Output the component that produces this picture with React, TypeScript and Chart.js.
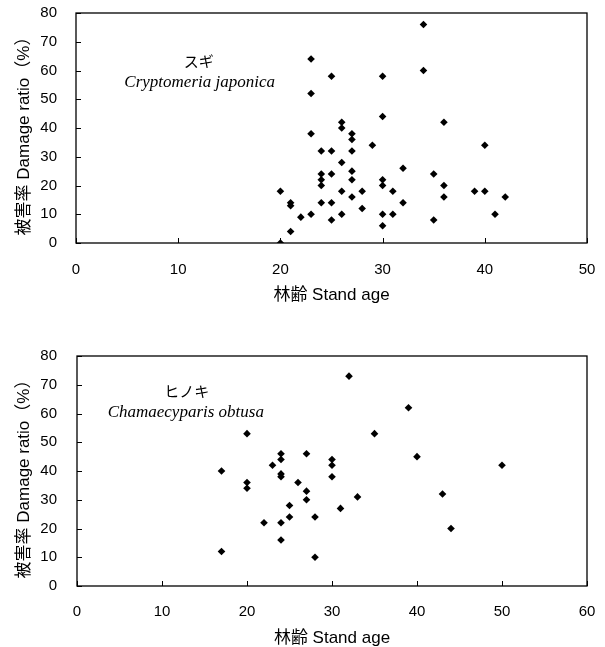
import React, { useEffect, useRef } from "react";
import { Chart, registerables } from "chart.js";

Chart.register(...registerables);

// スギ Cryptomeria japonica
const sugiAge = [20, 20, 21, 21, 21, 22, 23, 23, 23, 23, 24, 24, 24, 24, 24, 25, 25, 25, 25, 25, 26, 26, 26, 26, 26, 27, 27, 27, 27, 27, 27, 28, 28, 29, 30, 30, 30, 30, 30, 30, 31, 31, 32, 32, 34, 34, 35, 35, 36, 36, 36, 39, 40, 40, 41, 42];
const sugiDamage = [18, 0, 14, 13, 4, 9, 64, 52, 38, 10, 32, 24, 22, 20, 14, 58, 32, 24, 14, 8, 42, 40, 28, 18, 10, 38, 36, 32, 25, 22, 16, 18, 12, 34, 58, 44, 22, 20, 10, 6, 18, 10, 26, 14, 76, 60, 24, 8, 42, 20, 16, 18, 34, 18, 10, 16];

// ヒノキ Chamaecyparis obtusa
const hinokiAge = [17, 17, 20, 20, 20, 22, 23, 24, 24, 24, 24, 24, 24, 25, 25, 26, 27, 27, 27, 28, 28, 30, 30, 30, 31, 32, 33, 35, 39, 40, 43, 44, 50];
const hinokiDamage = [40, 12, 53, 36, 34, 22, 42, 46, 44, 39, 38, 22, 16, 28, 24, 36, 46, 33, 30, 24, 10, 44, 42, 38, 27, 73, 31, 53, 62, 45, 32, 20, 42];

const yTicks = [0, 10, 20, 30, 40, 50, 60, 70, 80];
const xTitle = "林齢 Stand age";
const yTitle = "被害率 Damage ratio（%）";

const SANS = "'Liberation Sans', 'Noto Sans CJK JP', sans-serif";
const SERIF = "'Liberation Serif', 'DejaVu Serif', serif";

type Cfg = {
  ages: number[];
  damage: number[];
  xMax: number;
  jp: string;
  latin: string;
  jpPos: [number, number];
  latinPos: [number, number];
  width: number;
  height: number;
  padTop: number;
  padRight: number;
  yWidth: number;
  xHeight: number;
  yTickPad: number;
  xTickPad: number;
  xTitleY: number;
};

function zeroPad(s: any) {
  s.paddingTop = 0;
  s.paddingBottom = 0;
  s.paddingLeft = 0;
  s.paddingRight = 0;
}

function Scatter({ cfg, top }: { cfg: Cfg; top: number }) {
  const ref = useRef<HTMLCanvasElement>(null);
  useEffect(() => {
    if (!ref.current) return;
    const points = cfg.ages.map((a, i) => ({ x: a, y: cfg.damage[i] }));
    const framePlugin = {
      id: "frame",
      beforeDatasetsDraw(chart: any) {
        const { ctx, chartArea: ca, scales } = chart;
        ctx.save();
        ctx.strokeStyle = "#000";
        ctx.lineWidth = 1.3;
        ctx.strokeRect(ca.left, ca.top, ca.right - ca.left, ca.bottom - ca.top);
        ctx.lineWidth = 1;
        scales.x.ticks.forEach((t: any) => {
          const px = Math.round(scales.x.getPixelForValue(t.value)) + 0.5;
          ctx.beginPath();
          ctx.moveTo(px, ca.bottom);
          ctx.lineTo(px, ca.bottom - 5);
          ctx.stroke();
        });
        scales.y.ticks.forEach((t: any) => {
          const py = Math.round(scales.y.getPixelForValue(t.value)) + 0.5;
          ctx.beginPath();
          ctx.moveTo(ca.left, py);
          ctx.lineTo(ca.left + 5, py);
          ctx.stroke();
        });
        ctx.restore();
      },
      afterDraw(chart: any) {
        const { ctx, chartArea: ca, scales } = chart;
        ctx.save();
        ctx.fillStyle = "#000";
        ctx.textAlign = "center";
        ctx.textBaseline = "middle";
        ctx.font = "15px 'Noto Sans CJK JP', sans-serif";
        ctx.fillText(cfg.jp, scales.x.getPixelForValue(cfg.jpPos[0]), scales.y.getPixelForValue(cfg.jpPos[1]));
        ctx.font = `italic 17px ${SERIF}`;
        ctx.fillText(cfg.latin, scales.x.getPixelForValue(cfg.latinPos[0]), scales.y.getPixelForValue(cfg.latinPos[1]));
        // axis titles
        ctx.font = `17px ${SANS}`;
        ctx.fillText(xTitle, (ca.left + ca.right) / 2, cfg.xTitleY);
        ctx.translate(24, (ca.top + ca.bottom) / 2 + 4);
        ctx.rotate(-Math.PI / 2);
        ctx.fillText(yTitle, 0, 0);
        ctx.restore();
      },
    };
    const chart = new Chart(ref.current, {
      type: "scatter",
      data: {
        datasets: [
          {
            data: points,
            pointStyle: "rectRot",
            pointRadius: 3.8,
            pointBackgroundColor: "#000",
            pointBorderColor: "#000",
            pointBorderWidth: 0,
            showLine: false,
          },
        ],
      },
      options: {
        responsive: false,
        animation: false,
        events: [],
        layout: { padding: { top: cfg.padTop, right: cfg.padRight, left: 0, bottom: 0 } },
        plugins: { legend: { display: false }, tooltip: { enabled: false } },
        scales: {
          x: {
            type: "linear",
            min: 0,
            max: cfg.xMax,
            afterFit: (s: any) => {
              s.height = cfg.xHeight;
              zeroPad(s);
            },
            ticks: {
              stepSize: 10,
              color: "#000",
              padding: cfg.xTickPad,
              font: { family: SANS, size: 15 },
              maxRotation: 0,
            },
            grid: { display: false, drawTicks: false },
            border: { display: false },
          },
          y: {
            type: "linear",
            min: yTicks[0],
            max: yTicks[yTicks.length - 1],
            afterFit: (s: any) => {
              s.width = cfg.yWidth;
              zeroPad(s);
            },
            ticks: {
              stepSize: 10,
              color: "#000",
              padding: cfg.yTickPad,
              font: { family: SANS, size: 15 },
            },
            grid: { display: false, drawTicks: false },
            border: { display: false },
          },
        },
      },
      plugins: [framePlugin],
    } as any);
    return () => chart.destroy();
  }, [cfg]);
  return (
    <canvas
      ref={ref}
      width={cfg.width}
      height={cfg.height}
      style={{ position: "absolute", left: 0, top, width: cfg.width, height: cfg.height }}
    />
  );
}

const topCfg: Cfg = {
  ages: sugiAge,
  damage: sugiDamage,
  xMax: 50,
  jp: "スギ",
  latin: "Cryptomeria japonica",
  jpPos: [12.0, 63.3],
  latinPos: [12.1, 55.7],
  width: 605,
  height: 312,
  padTop: 13,
  padRight: 18,
  yWidth: 76,
  xHeight: 312 - 243,
  yTickPad: 19,
  xTickPad: 18,
  xTitleY: 295,
};

const bottomCfg: Cfg = {
  ages: hinokiAge,
  damage: hinokiDamage,
  xMax: 60,
  jp: "ヒノキ",
  latin: "Chamaecyparis obtusa",
  jpPos: [12.9, 67.8],
  latinPos: [12.8, 60.3],
  width: 605,
  height: 335,
  padTop: 44,
  padRight: 18,
  yWidth: 77,
  xHeight: 335 - 274,
  yTickPad: 20,
  xTickPad: 17,
  xTitleY: 326,
};

export default function App() {
  return (
    <div style={{ position: "absolute", left: 0, top: 0, width: 605, height: 647, background: "#fff" }}>
      <Scatter cfg={topCfg} top={0} />
      <Scatter cfg={bottomCfg} top={312} />
    </div>
  );
}
